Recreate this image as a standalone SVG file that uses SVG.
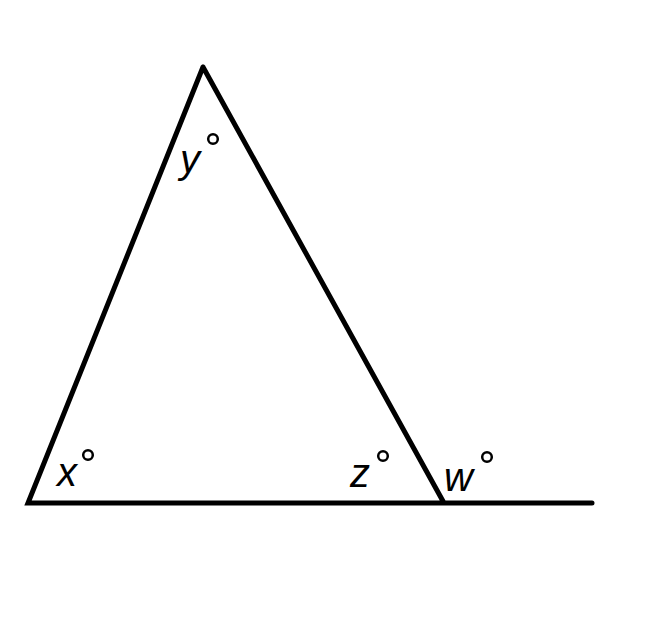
<svg xmlns="http://www.w3.org/2000/svg" width="669" height="633" viewBox="0 0 669 633">
<style>
.ln{stroke:#000;stroke-width:5;stroke-linecap:round;fill:none}
.deg{stroke:#000;stroke-width:2.5;fill:none}
.lb{font-family:"Liberation Sans",Arial,sans-serif;font-style:italic;font-size:40px;fill:#000}
</style>
<rect width="669" height="633" fill="#fff"/>
<g id="lines">
<path class="ln" d="M203,67 L28,503 L592,503 M203,67 L444,503"/>
</g>
<g id="label-x"><text class="lb" x="57" y="486">x</text><circle class="deg" cx="88" cy="455" r="4.8"/></g>
<g id="label-y"><text class="lb" x="180" y="173">y</text><circle class="deg" cx="213" cy="139" r="4.8"/></g>
<g id="label-z"><text class="lb" x="350" y="487">z</text><circle class="deg" cx="383" cy="456" r="4.8"/></g>
<g id="label-w"><text class="lb" x="444" y="491">w</text><circle class="deg" cx="487" cy="457" r="4.8"/></g>
</svg>
